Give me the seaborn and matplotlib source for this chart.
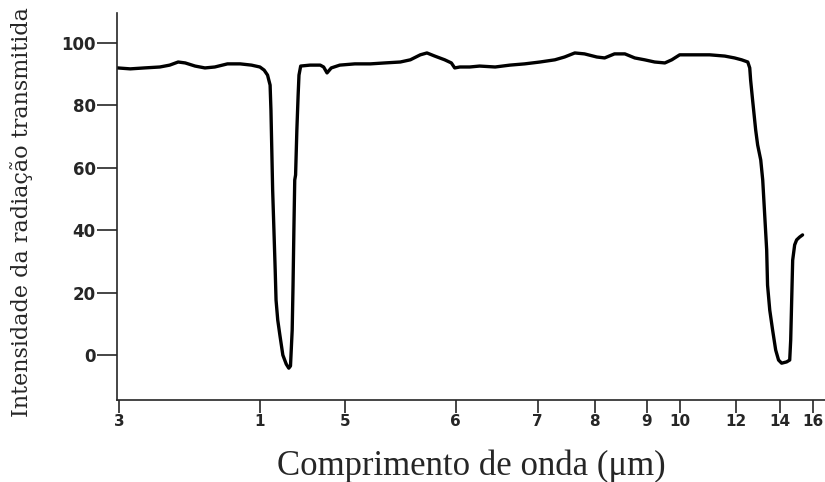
import numpy as np
import pandas as pd
import matplotlib
matplotlib.use("Agg")
import matplotlib.pyplot as plt
import seaborn as sns

# Espectro de transmissão
comprimento = [2.99, 3.08, 3.18, 3.29, 3.36, 3.42, 3.47, 3.54, 3.61, 3.68, 3.77, 3.86, 3.94,
               4.00, 4.05, 4.09, 4.12, 4.13, 4.14, 4.15, 4.165, 4.18, 4.19, 4.21, 4.235, 4.27,
               4.31, 4.34, 4.36, 4.38, 4.39, 4.40, 4.41, 4.42, 4.435, 4.45, 4.46, 4.48, 4.59,
               4.71, 4.75, 4.79, 4.84, 4.94, 5.09, 5.23, 5.36, 5.50, 5.59, 5.68, 5.74, 5.81,
               5.90, 5.96, 5.99, 6.05, 6.17, 6.29, 6.48, 6.66, 6.84, 7.04, 7.30, 7.47, 7.65,
               7.82, 8.04, 8.19, 8.38, 8.58, 8.77, 8.96, 9.24, 9.55, 9.76, 10.0, 10.54, 11.07,
               11.61, 11.96, 12.27, 12.55, 12.64, 12.68, 12.77, 12.91, 13.0, 13.14, 13.23,
               13.32, 13.41, 13.45, 13.55, 13.68, 13.82, 13.95, 14.12, 14.42, 14.61, 14.67,
               14.73, 14.79, 14.91, 15.03, 15.21, 15.39]
intensidade = [92.0, 91.7, 92.0, 92.3, 92.9, 93.9, 93.6, 92.6, 92.0, 92.3, 93.3, 93.3, 92.9,
               92.3, 91.3, 89.7, 86.5, 78.5, 65.7, 52.9, 40.1, 27.2, 17.6, 11.2, 6.4, 0.0,
               -2.9, -4.2, -3.5, 8.0, 22.4, 40.1, 56.1, 57.7, 72.1, 83.3, 89.7, 92.6, 92.9,
               92.9, 92.3, 90.4, 92.0, 92.9, 93.3, 93.3, 93.6, 93.9, 94.6, 96.2, 96.8, 95.8,
               94.6, 93.6, 92.0, 92.3, 92.3, 92.6, 92.3, 92.9, 93.3, 93.9, 94.6, 95.5, 96.8,
               96.5, 95.5, 95.2, 96.5, 96.5, 95.2, 94.6, 93.9, 93.6, 94.6, 96.2, 96.2, 96.2,
               95.8, 95.2, 94.6, 93.9, 92.0, 88.1, 81.7, 72.1, 67.3, 62.5, 56.1,
               44.9, 33.7, 22.4, 14.4, 8.0, 1.6, -1.6, -2.6, -2.2, -1.6, 4.8,
               17.6, 30.4, 35.3, 36.9, 37.8, 38.5]

# Eixo x não linear: valores das marcas e espaçamento relativo na escala impressa
marcas_um = [3, 4, 5, 6, 7, 8, 9, 10, 12, 14, 16]
rotulos_x = ["3", "1", "5", "6", "7", "8", "9", "10", "12", "14", "16"]
escala_um = [2, 3, 4, 5, 6, 7, 8, 9, 10, 12, 14, 16, 20]
escala_pos = [-22, 119, 260, 345, 456, 538, 595, 647, 680, 736, 780, 813, 879]
marcas_y = [0, 20, 40, 60, 80, 100]

df = pd.DataFrame({"um": comprimento, "I": intensidade})

sns.set_style("ticks")
plt.rcParams["font.family"] = ["DejaVu Sans"]

fig = plt.figure(figsize=(8.25, 4.82), dpi=100)
ax = fig.add_axes([117 / 825, 82 / 482, 1 - 117 / 825, 387 / 482])

def fwd(x):
    return np.interp(x, escala_um, escala_pos)

def inv(p):
    return np.interp(p, escala_pos, escala_um)

ax.set_xscale("function", functions=(fwd, inv))

sns.lineplot(data=df, x="um", y="I", sort=False, estimator=None, color="black",
             linewidth=2.4, ax=ax)

ax.set_xlim(2.986, 16.75)
ax.set_ylim(-14.4, 109.6)
ax.set_xticks(marcas_um, labels=rotulos_x)
ax.set_yticks(marcas_y)
ax.minorticks_off()
ax.tick_params(axis="x", length=9.5, width=1.2, pad=0.5, labelsize=11)
ax.tick_params(axis="y", length=14.4, width=1.2, pad=1, labelsize=12)
for lab in ax.get_xticklabels() + ax.get_yticklabels():
    lab.set_fontweight("bold")

for s in ["top", "right"]:
    ax.spines[s].set_visible(False)
for s in ["left", "bottom"]:
    ax.spines[s].set_linewidth(1.2)

ax.set_xlabel("Comprimento de onda (μm)", family=["Liberation Serif"], fontsize=25, labelpad=15)
ax.set_ylabel("Intensidade da radiação transmitida", family=["DejaVu Serif"], fontsize=16)
ax.yaxis.set_label_coords(-84 / 708, 0.486)

fig.savefig("out.png", dpi=100)
